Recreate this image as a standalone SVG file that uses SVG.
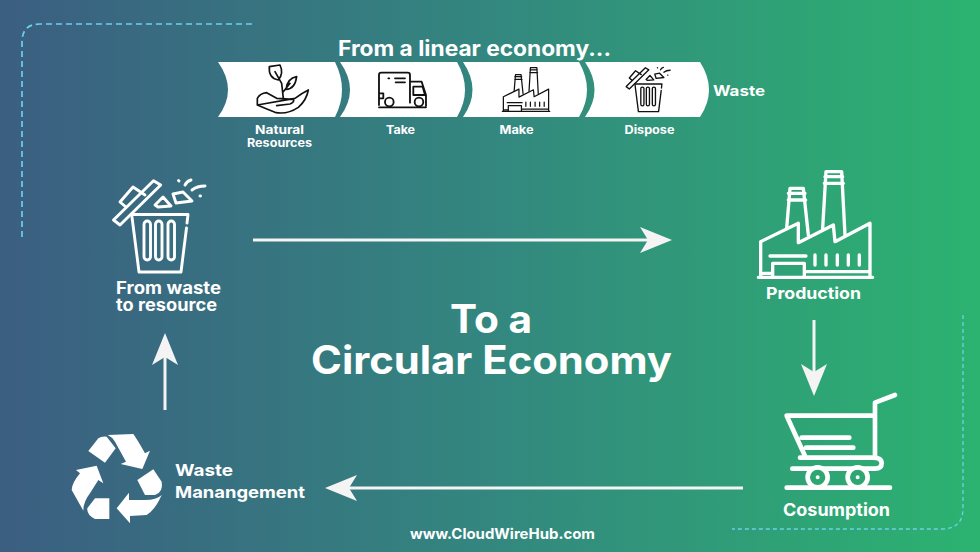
<svg xmlns="http://www.w3.org/2000/svg" xmlns:xlink="http://www.w3.org/1999/xlink" width="980" height="552" viewBox="0 0 980 552">
<style>
text{font-family:"Inter","Liberation Sans",sans-serif;font-weight:700;fill:#fff}
.m{text-anchor:middle}
.ban{fill:#fff}
.frame{fill:none;stroke:#6cd0ec}
.conn{stroke:#f4f4f4;stroke-width:3;fill:none;marker-end:url(#head)}
.lw{fill:none;stroke:#fff;stroke-linecap:round;stroke-linejoin:round}
.lk{fill:none;stroke:#111;stroke-linecap:round;stroke-linejoin:round}
</style>
<defs>
<linearGradient id="bg" x1="0" y1="0" x2="1" y2="0">
<stop offset="0" stop-color="#3b5e81"/>
<stop offset=".5" stop-color="#33877f"/>
<stop offset="1" stop-color="#2cb370"/>
</linearGradient>
<marker id="head" markerUnits="userSpaceOnUse" viewBox="0 0 32 26" refX="8" refY="13" markerWidth="32" markerHeight="26" orient="auto">
<path d="M0 0L32 13L0 26L8 13Z" fill="#f4f4f4"/>
</marker>
<g id="trash">
<path d="M132 214.500H188L187 223M132 217L139 272H181L186.500 228"/>
<rect x="144" y="221" width="6.500" height="39" rx="3.200"/>
<rect x="155.500" y="221" width="6.500" height="39" rx="3.200"/>
<rect x="168" y="221" width="6.500" height="39" rx="3.200"/>
<path d="M113.500 220L153.500 180.700L160.700 185L120 225Z"/>
<path d="M126 207L120 202L133 187L145 195"/>
<path d="M155 205L163 197L171 206L158 207Z"/>
<path d="M173 194L183 192L192 201L176 203Z"/>
<path d="M178.500 180.500L179 181M185 185Q187 181 191 180M192 190Q197 186 205 186M200 196L200.500 196"/>
</g>
<g id="factory">
<path d="M55 352H398M62 350V245L175 190V248L280 195L285 245L390 190V350M70 340H95M200 335H390"/>
<path d="M140 205L150 85H190L205 225M145 100H195M145 120H197M248 205L258 35H305L315 225M255 50H308M253 70H310"/>
<path d="M90 288H198M98 350V310H193V350M225 285V315M258 285V315M292 285V315M325 285V315M358 285V315"/>
</g>
</defs>
<rect width="980" height="552" fill="url(#bg)"/>
<path class="frame" stroke-width="1.700" stroke-dasharray="6 4" d="M22 237V42Q22 24 40 24H254"/>
<path class="frame" stroke-width="1.300" stroke-dasharray="4 3" d="M963 315V508Q963 529 942 529H732"/>

<g id="connectors">
<path class="conn" d="M253 240H648"/>
<path class="conn" d="M814 320V372"/>
<path class="conn" d="M743 488H349"/>
<path class="conn" d="M165 410V357"/>
</g>

<g id="linear-title"><text x="338" y="56" font-size="21" textLength="273" lengthAdjust="spacingAndGlyphs">From a linear economy...</text></g>

<g id="natural-resources">
<path class="ban" d="M218 62H335Q349 90 335 117H218Q238 90 218 62Z"/>
<g class="lk" stroke-width="5" transform="translate(200 30) scale(.3333)">
<path d="M208 110L240 105Q252 130 235 150Q205 145 208 110ZM225 125L245 160L250 205M290 140Q262 145 258 178Q285 178 290 140ZM270 160L250 185"/>
<path d="M172 225V205Q180 190 200 188L230 205L280 208Q285 216 270 222L230 227M285 205Q305 190 325 180Q320 210 295 232Q260 255 225 247Q195 235 172 225Z"/>
</g>
<text x="255" y="134" font-size="11.500" textLength="49" lengthAdjust="spacingAndGlyphs">Natural</text>
<text x="247" y="147" font-size="11.500" textLength="65" lengthAdjust="spacingAndGlyphs">Resources</text>
</g>

<g id="take">
<path class="ban" d="M340 62H457Q473 90 457 117H340Q360 90 340 62Z"/>
<g class="lk" stroke-width="5.500" transform="translate(200 30) scale(.3333)">
<path d="M630 218V135Q630 128 623 128H544Q537 128 537 135V225M630 155H665L678 195V228M640 170H668L675 195H640ZM537 190H550V205H537M585 145H615M587 157H615M565 145H568M537 232H678"/>
<circle cx="568" cy="216" r="13" fill="#fff"/><circle cx="657" cy="216" r="13" fill="#fff"/>
</g>
<text x="386" y="134" font-size="11.500" textLength="29" lengthAdjust="spacingAndGlyphs">Take</text>
</g>

<g id="make">
<path class="ban" d="M463 62H579Q595 90 579 117H463Q482 90 463 62Z"/>
<use xlink:href="#factory" href="#factory" class="lk" stroke-width="9" transform="translate(494.800 62.900) scale(.138)"/>
<text x="499.500" y="134" font-size="11.500" textLength="34" lengthAdjust="spacingAndGlyphs">Make</text>
</g>

<g id="dispose">
<path class="ban" d="M585 62H700Q718 90 700 117H585Q604 90 585 62Z"/>
<use xlink:href="#trash" href="#trash" class="lk" stroke-width="2.800" transform="translate(571.700 -19) scale(.48)"/>
<text x="624.500" y="134" font-size="11.500" textLength="50" lengthAdjust="spacingAndGlyphs">Dispose</text>
</g>

<g id="waste-out"><text x="713" y="96" font-size="14.500" textLength="52" lengthAdjust="spacingAndGlyphs">Waste</text></g>

<g id="from-waste">
<use xlink:href="#trash" href="#trash" class="lw" stroke-width="2.900"/>
<text x="116" y="294" font-size="17" textLength="105" lengthAdjust="spacingAndGlyphs">From waste</text>
<text x="116" y="311" font-size="17" textLength="101" lengthAdjust="spacingAndGlyphs">to resource</text>
</g>

<g id="production">
<use xlink:href="#factory" href="#factory" class="lw" stroke-width="10" transform="translate(740 160) scale(.3333)"/>
<text x="766" y="299" font-size="16.500" textLength="95" lengthAdjust="spacingAndGlyphs">Production</text>
</g>

<g id="consumption">
<g class="lw" stroke-width="14" transform="translate(760 380) scale(.3333)">
<path d="M405 45L345 68V233M80 107H345M80 107L135 228M125 173H268M138 203H280M120 233H340Q365 233 365 250Q365 266 345 266H97M80 323H390"/>
<circle cx="173" cy="292" r="30" fill="#2ea672"/><circle cx="293" cy="292" r="30" fill="#2ea672"/>
<circle cx="173" cy="292" r="3" fill="#fff" stroke-width="6"/><circle cx="293" cy="292" r="3" fill="#fff" stroke-width="6"/>
</g>
<text x="783" y="516" font-size="17.500" textLength="107" lengthAdjust="spacingAndGlyphs">Cosumption</text>
</g>

<g id="waste-management">
<g fill="#fff" transform="translate(55 420) scale(.3333)">
<path d="M100 93L130 55Q140 48 155 50L182 85L150 128Z"/>
<path d="M158 45L235 42Q248 60 270 100L285 92L262 147L197 132L213 125L180 65Q170 50 158 45Z"/>
<path d="M247 180L295 148L320 185Q326 215 300 225H270Z"/>
<path d="M320 225Q300 270 275 285L225 288V310L185 265L222 218V240H270Q305 240 320 225Z"/>
<path d="M163 235V297H120Q95 285 97 265L120 235Z"/>
<path d="M85 272L50 210Q50 190 75 160L63 150L125 137L145 190L130 180L105 220Q85 245 85 272Z"/>
</g>
<text x="175" y="476" font-size="16.500" textLength="58" lengthAdjust="spacingAndGlyphs">Waste</text>
<text x="175" y="498" font-size="16.500" textLength="130" lengthAdjust="spacingAndGlyphs">Manangement</text>
</g>

<g id="center-title">
<text x="450" y="333" font-size="39" textLength="82" lengthAdjust="spacingAndGlyphs">To a</text>
<text x="311" y="374" font-size="39" textLength="361" lengthAdjust="spacingAndGlyphs">Circular Economy</text>
</g>

<g id="website"><text x="410" y="539" font-size="14.500" textLength="185" lengthAdjust="spacingAndGlyphs">www.CloudWireHub.com</text></g>
</svg>
